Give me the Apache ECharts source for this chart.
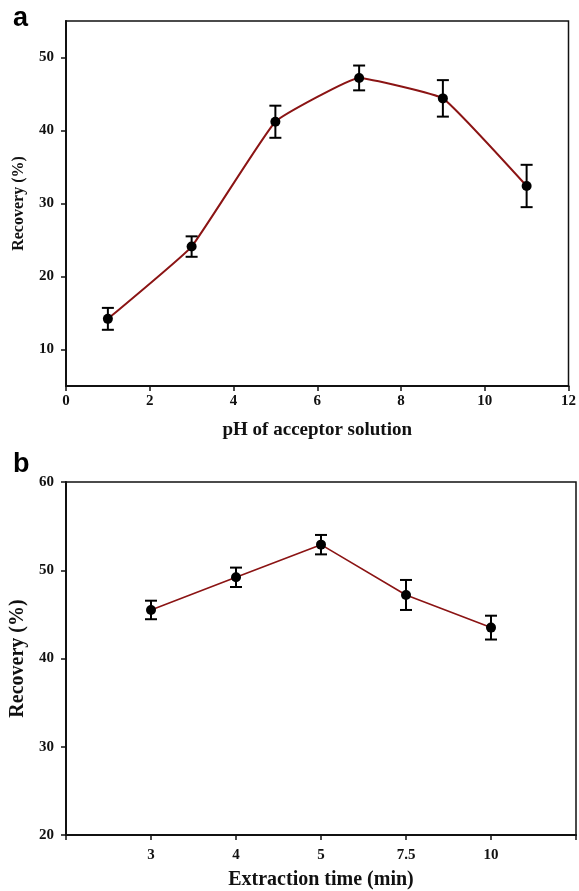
<!DOCTYPE html>
<html>
<head>
<meta charset="utf-8">
<script src="https://cdn.jsdelivr.net/npm/echarts@6/dist/echarts.min.js"></script>
<style>
  html, body { margin: 0; padding: 0; background: #fff; }
  #myChart { width: 579px; height: 891px; }
</style>
</head>
<body>
<div id="myChart"></div>
<script>
  // panel a: pH of acceptor solution
  const phValues = [1, 3, 5, 7, 9, 11]
  const phRecovery = [14.2, 24.1, 41.2, 47.2, 44.4, 32.4]
  const phError = [1.5, 1.4, 2.2, 1.7, 2.5, 2.9]
  const phTicksY = [10, 20, 30, 40, 50]

  // panel b: extraction time
  const timeLabels = ['3', '4', '5', '7.5', '10']
  const timeRecovery = [45.5, 49.2, 52.9, 47.2, 43.5]
  const timeError = [1.05, 1.1, 1.1, 1.7, 1.35]

  const serif = '"Liberation Serif", "Times New Roman", serif'
  const lineColor = '#8b1414'

  let myChart = echarts.init(document.getElementById('myChart'))

  // error bar drawing
  function errorBar(capW) {
    return function (params, api) {
      const x = api.value(0)
      const lo = api.coord([x, api.value(1)])
      const hi = api.coord([x, api.value(2)])
      const style = { stroke: '#000', lineWidth: 2 }
      return {
        type: 'group',
        children: [
          { type: 'line', shape: { x1: lo[0], y1: lo[1], x2: hi[0], y2: hi[1] }, style },
          { type: 'line', shape: { x1: lo[0] - capW, y1: lo[1], x2: lo[0] + capW, y2: lo[1] }, style },
          { type: 'line', shape: { x1: hi[0] - capW, y1: hi[1], x2: hi[0] + capW, y2: hi[1] }, style }
        ]
      }
    }
  }

  const phPoints = phValues.map((x, i) => [x, phRecovery[i]])
  const phBars = phValues.map((x, i) => [x, phRecovery[i] - phError[i], phRecovery[i] + phError[i]])
  const timePoints = timeLabels.map((l, i) => [i + 3, timeRecovery[i]])
  const timeBars = timeLabels.map((l, i) => [i + 3, timeRecovery[i] - timeError[i], timeRecovery[i] + timeError[i]])

  const axisLineStyle = { lineStyle: { color: '#111', width: 2 } }
  const tickStyle = { show: true, inside: false, length: 5, lineStyle: { color: '#111', width: 1.5 } }
  const labelStyle = { color: '#111', fontFamily: serif, fontWeight: 'bold', fontSize: 15 }

  myChart.setOption({
    animation: false,
    title: [
      { text: 'a', left: 8, top: 0, textStyle: { fontFamily: '"Liberation Sans", Arial', fontWeight: 'bold', fontSize: 27, color: '#000' } },
      { text: 'b', left: 8, top: 446, textStyle: { fontFamily: '"Liberation Sans", Arial', fontWeight: 'bold', fontSize: 27, color: '#000' } }
    ],
    grid: [
      { left: 66, right: 8, top: 21, height: 365, show: true, borderColor: '#111', borderWidth: 1.5 },
      { left: 66, right: 1, top: 482, height: 359, show: true, borderColor: '#111', borderWidth: 1.5 }
    ],
    xAxis: [
      {
        gridIndex: 0, type: 'value', min: 0, max: 12, interval: 2,
        name: 'pH of acceptor solution', nameLocation: 'middle', nameGap: 35,
        nameTextStyle: { fontFamily: serif, fontWeight: 'bold', fontSize: 19, color: '#111' },
        axisLine: axisLineStyle, axisTick: tickStyle, splitLine: { show: false },
        axisLabel: Object.assign({ margin: 8 }, labelStyle)
      },
      {
        gridIndex: 1, type: 'value', min: 2, max: 8, interval: 1,
        name: 'Extraction time (min)', nameLocation: 'middle', nameGap: 35,
        nameTextStyle: { fontFamily: serif, fontWeight: 'bold', fontSize: 20, color: '#111' },
        axisLine: axisLineStyle, axisTick: tickStyle, splitLine: { show: false },
        axisLabel: Object.assign({
          margin: 13,
          formatter: v => timeLabels[v - 3] || ''
        }, labelStyle)
      }
    ],
    yAxis: [
      {
        gridIndex: 0, type: 'value', min: 5, max: 55,
        name: 'Recovery (%)', nameLocation: 'middle', nameGap: 39,
        nameTextStyle: { fontFamily: serif, fontWeight: 'bold', fontSize: 16, color: '#111' },
        axisLine: axisLineStyle, splitLine: { show: false },
        axisTick: Object.assign({ customValues: phTicksY }, tickStyle),
        axisLabel: Object.assign({ customValues: phTicksY, margin: 12 }, labelStyle)
      },
      {
        gridIndex: 1, type: 'value', min: 20, max: 60, interval: 10,
        name: 'Recovery (%)', nameLocation: 'middle', nameGap: 38,
        nameTextStyle: { fontFamily: serif, fontWeight: 'bold', fontSize: 20, color: '#111' },
        axisLine: axisLineStyle, splitLine: { show: false },
        axisTick: tickStyle,
        axisLabel: Object.assign({ margin: 12 }, labelStyle)
      }
    ],
    series: [
      {
        type: 'line', xAxisIndex: 0, yAxisIndex: 0, data: phPoints, smooth: 0.1,
        lineStyle: { color: lineColor, width: 2 },
        symbol: 'circle', symbolSize: 10, itemStyle: { color: '#000' }, z: 3
      },
      {
        type: 'custom', xAxisIndex: 0, yAxisIndex: 0, data: phBars,
        renderItem: errorBar(6), z: 4
      },
      {
        type: 'line', xAxisIndex: 1, yAxisIndex: 1, data: timePoints,
        lineStyle: { color: lineColor, width: 1.6 },
        symbol: 'circle', symbolSize: 10, itemStyle: { color: '#000' }, z: 3
      },
      {
        type: 'custom', xAxisIndex: 1, yAxisIndex: 1, data: timeBars,
        renderItem: errorBar(6), z: 4
      }
    ]
  })
</script>
</body>
</html>
